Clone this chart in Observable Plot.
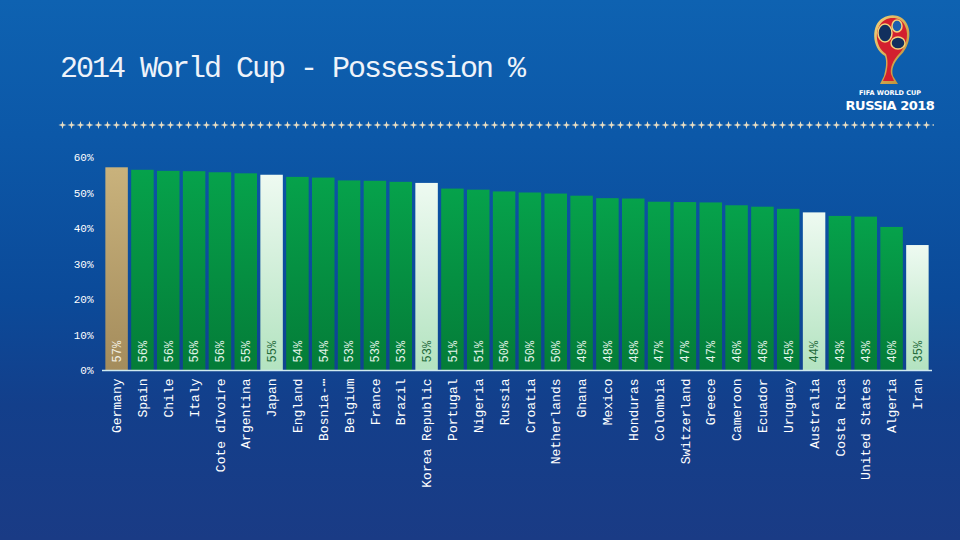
<!DOCTYPE html>
<html>
<head>
<meta charset="utf-8">
<script src="https://cdn.jsdelivr.net/npm/d3@7"></script>
<script src="https://cdn.jsdelivr.net/npm/@observablehq/plot@0.6"></script>
<style>
  html, body { margin: 0; padding: 0; }
  #page {
    position: relative; width: 960px; height: 540px; overflow: hidden;
    background: linear-gradient(180deg, #0e62b1 0%, #0c58a8 25%, #0b4a99 55%, #133f8b 75%, #1a3b85 100%);
    font-family: "Liberation Mono", "DejaVu Sans Mono", monospace;
  }
  #title {
    position: absolute; left: 60px; top: 52px; color: #eef3fa;
    font-size: 30px; letter-spacing: -2px; white-space: nowrap;
  }
  #sep { position: absolute; left: 58px; top: 119px; }
  #logo { position: absolute; left: 835px; top: 0px; }
  #chart { position: absolute; left: 0; top: 140px; }
</style>
</head>
<body>
<div id="page">
  <div id="title">2014 World Cup - Possession %</div>
  <svg id="sep" width="880" height="12">
    <defs>
      <pattern id="stars" width="9" height="12" patternUnits="userSpaceOnUse">
        <path d="M4.5 2 L5.4 5.1 L8.5 6 L5.4 6.9 L4.5 10 L3.6 6.9 L0.5 6 L3.6 5.1 Z" fill="#e6dcc2"/>
      </pattern>
    </defs>
    <rect x="0" y="0" width="876" height="12" fill="url(#stars)"/>
  </svg>
  <svg id="logo" width="115" height="118" viewBox="0 0 115 118">
    <defs>
      <linearGradient id="gold" x1="0" y1="0" x2="1" y2="1">
        <stop offset="0" stop-color="#f3d27a"/><stop offset="1" stop-color="#b8862e"/>
      </linearGradient>
    </defs>
    <path d="M50 56 C36 48 36 24 48 18 C56 13 68 15 72 24 C78 36 72 50 64 57 C59 63 56 69 58 76 L63 84 L45 84 L49 76 C51 68 52 62 50 56 Z" fill="url(#gold)"/>
    <path d="M51 54 C39 46 39 26 50 20 C57 16 67 18 70 26 C75 36 70 48 63 55 C58 61 55 67 56 74 L59 81 L48 81 L51 74 C53 66 53 60 51 54 Z" fill="#d3202e"/>
    <ellipse cx="50" cy="33" rx="7" ry="9" fill="#12305e" stroke="#f3d27a" stroke-width="1.5"/>
    <ellipse cx="62" cy="26" rx="5" ry="6" fill="#1d5fae" stroke="#f3d27a" stroke-width="1.5"/>
    <ellipse cx="63" cy="43" rx="7" ry="6" fill="#12305e" stroke="#f3d27a" stroke-width="1.5"/>
    <text x="55" y="95" text-anchor="middle" font-family="DejaVu Sans, sans-serif" font-weight="bold" font-size="6.5" fill="#ffffff">FIFA WORLD CUP</text>
    <text x="55" y="110" text-anchor="middle" font-family="DejaVu Sans, sans-serif" font-weight="bold" font-size="13" fill="#ffffff" letter-spacing="-0.5">RUSSIA 2018</text>
  </svg>
  <div id="chart"></div>
</div>
<script>
const countries = ["Germany","Spain","Chile","Italy","Cote dIvoire","Argentina","Japan","England","Bosnia-\u22EF","Belgium","France","Brazil","Korea Republic","Portugal","Nigeria","Russia","Croatia","Netherlands","Ghana","Mexico","Honduras","Colombia","Switzerland","Greece","Cameroon","Ecuador","Uruguay","Australia","Costa Rica","United States","Algeria","Iran"];
const possession = [57.1,56.4,56.1,56.0,55.7,55.4,55.0,54.4,54.2,53.4,53.3,53.0,52.7,51.1,50.8,50.3,50.0,49.7,49.1,48.4,48.3,47.4,47.3,47.2,46.4,46.0,45.4,44.4,43.4,43.2,40.3,35.2];
const groups = ["winner","other","other","other","other","other","asia","other","other","other","other","other","asia","other","other","other","other","other","other","other","other","other","other","other","other","other","other","asia","other","other","other","asia"];
const yTicks = [0,10,20,30,40,50,60];

const barFill = {winner: "url(#gWinner)", asia: "url(#gAsia)", other: "url(#gGreen)"};
const labelFill = {winner: "#f4f0e4", asia: "#1e6a3a", other: "#e6f4ea"};

const data = countries.map((c, i) => ({country: c, value: possession[i], group: groups[i]}));

const chart = Plot.plot({
  width: 960,
  height: 360,
  marginLeft: 102,
  marginRight: 28,
  marginTop: 17,
  marginBottom: 130,
  style: {background: "transparent", color: "#ffffff", fontFamily: "Liberation Mono, DejaVu Sans Mono, monospace"},
  x: {domain: countries, padding: 0.13, round: false, label: null},
  y: {domain: [0, 60], label: null},
  color: {type: "identity"},
  marks: [
    Plot.barY(data, {x: "country", y: "value", fill: d => barFill[d.group]}),
    Plot.ruleY([0], {stroke: "#cfe9f0", strokeWidth: 1.5}),
    Plot.text(data, {x: "country", y: 0, text: d => Math.round(d.value) + "%", rotate: -90, textAnchor: "start", dy: -8, fill: d => labelFill[d.group], fontSize: 12}),
    Plot.axisX({tickSize: 0, tickPadding: 8, tickRotate: -90, fontSize: 13, label: null}),
    Plot.axisY({ticks: yTicks, tickSize: 0, tickPadding: 9, tickFormat: d => d + "%", fontSize: 11, label: null})
  ]
});

chart.insertAdjacentHTML("afterbegin", `<defs>
  <linearGradient id="gGreen" x1="0" y1="0" x2="0" y2="1"><stop offset="0" stop-color="#06a24b"/><stop offset="1" stop-color="#047c38"/></linearGradient>
  <linearGradient id="gAsia" x1="0" y1="0" x2="0" y2="1"><stop offset="0" stop-color="#eefaf1"/><stop offset="1" stop-color="#b3e3c0"/></linearGradient>
  <linearGradient id="gWinner" x1="0" y1="0" x2="0" y2="1"><stop offset="0" stop-color="#c9b27c"/><stop offset="1" stop-color="#a48c5c"/></linearGradient>
</defs>`);

document.getElementById("chart").appendChild(chart);
</script>
</body>
</html>
